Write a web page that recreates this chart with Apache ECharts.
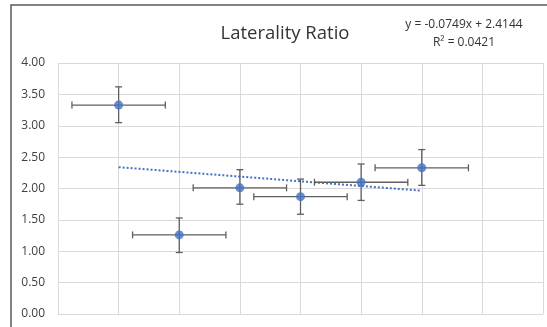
<!DOCTYPE html>
<html>
<head>
<meta charset="utf-8">
<script src="https://cdn.jsdelivr.net/npm/echarts@6/dist/echarts.min.js"></script>
<style>
  html, body { margin: 0; padding: 0; background: #fff; }
  #chart { width: 547px; height: 327px; }
</style>
</head>
<body>
<div id="chart"></div>
<script>
// 数据
const xValues = [1, 2, 3, 4, 5, 6];
const yValues = [3.33, 1.26, 2.01, 1.87, 2.10, 2.33];
const yErrHigh = [3.62, 1.53, 2.30, 2.15, 2.39, 2.62];
const yErrLow = [3.05, 0.98, 1.75, 1.59, 1.81, 2.05];
const xErr = [0.77, 0.77, 0.77, 0.77, 0.77, 0.77];
const trendX = [1, 6];
const trendY = [2.34, 1.965];
const titleText = "Laterality Ratio";
const equationLines = ["y = -0.0749x + 2.4144", "R\u00b2 = 0.0421"];

const chart = echarts.init(document.getElementById("chart"));

const errData = xValues.map((x, i) => [x, yValues[i], xErr[i], yErrLow[i], yErrHigh[i]]);
const pointData = xValues.map((x, i) => [x, yValues[i]]);
const trendData = trendX.map((x, i) => [x, trendY[i]]);

const errColor = "#5f5f5f";
const cap = 3.5;

const option = {
  animation: false,
  grid: { left: 58, top: 63, right: 4, bottom: 13 },
  graphic: [
    {
      type: "rect",
      shape: { x: 11, y: 5, width: 600, height: 400 },
      style: { fill: "none", stroke: "#5a5a5a", lineWidth: 1.5 },
      z: 100,
    },
    {
      type: "text",
      x: 285,
      y: 34,
      style: {
        text: titleText,
        fill: "#333333",
        font: "18.5px 'Open Sans'",
        textAlign: "center",
        textVerticalAlign: "middle",
      },
    },
    {
      type: "text",
      x: 464,
      y: 25,
      style: {
        text: equationLines[0],
        fill: "#333333",
        font: "12px 'Open Sans'",
        textAlign: "center",
        textVerticalAlign: "middle",
      },
    },
    {
      type: "text",
      x: 464,
      y: 43,
      style: {
        text: equationLines[1],
        fill: "#333333",
        font: "12px 'Open Sans'",
        textAlign: "center",
        textVerticalAlign: "middle",
      },
    },
  ],
  xAxis: {
    type: "value",
    min: 0,
    max: 8,
    interval: 1,
    axisLabel: { show: false },
    axisLine: { show: false },
    axisTick: { show: false },
    splitLine: { show: true, lineStyle: { color: "#d9d9d9", width: 1 } },
  },
  yAxis: {
    type: "value",
    min: 0,
    max: 4,
    interval: 0.5,
    axisLabel: {
      color: "#404040",
      fontSize: 12,
      fontFamily: "Open Sans",
      margin: 13,
      formatter: (v) => v.toFixed(2),
    },
    axisLine: { show: false },
    axisTick: { show: false },
    splitLine: { show: true, lineStyle: { color: "#d9d9d9", width: 1 } },
  },
  series: [
    {
      type: "line",
      data: trendData,
      symbol: "none",
      lineStyle: { color: "#4472c4", width: 2, type: [2, 2] },
      z: 3,
    },
    {
      type: "custom",
      data: errData,
      encode: { x: 0, y: 1 },
      z: 4,
      renderItem: (params, api) => {
        const x = api.value(0);
        const y = api.value(1);
        const dx = api.value(2);
        const left = api.coord([x - dx, y]);
        const right = api.coord([x + dx, y]);
        const top = api.coord([x, api.value(4)]);
        const bottom = api.coord([x, api.value(3)]);
        const style = { stroke: errColor, lineWidth: 1.3 };
        const line = (x1, y1, x2, y2) => ({
          type: "line",
          shape: { x1, y1, x2, y2 },
          style,
        });
        return {
          type: "group",
          children: [
            line(left[0], left[1], right[0], right[1]),
            line(left[0], left[1] - cap, left[0], left[1] + cap),
            line(right[0], right[1] - cap, right[0], right[1] + cap),
            line(top[0], top[1], bottom[0], bottom[1]),
            line(top[0] - cap, top[1], top[0] + cap, top[1]),
            line(bottom[0] - cap, bottom[1], bottom[0] + cap, bottom[1]),
          ],
        };
      },
    },
    {
      type: "scatter",
      data: pointData,
      symbol: "circle",
      symbolSize: 9,
      itemStyle: { color: "#4472c4" },
      z: 5,
    },
  ],
};

chart.setOption(option);
</script>
</body>
</html>
